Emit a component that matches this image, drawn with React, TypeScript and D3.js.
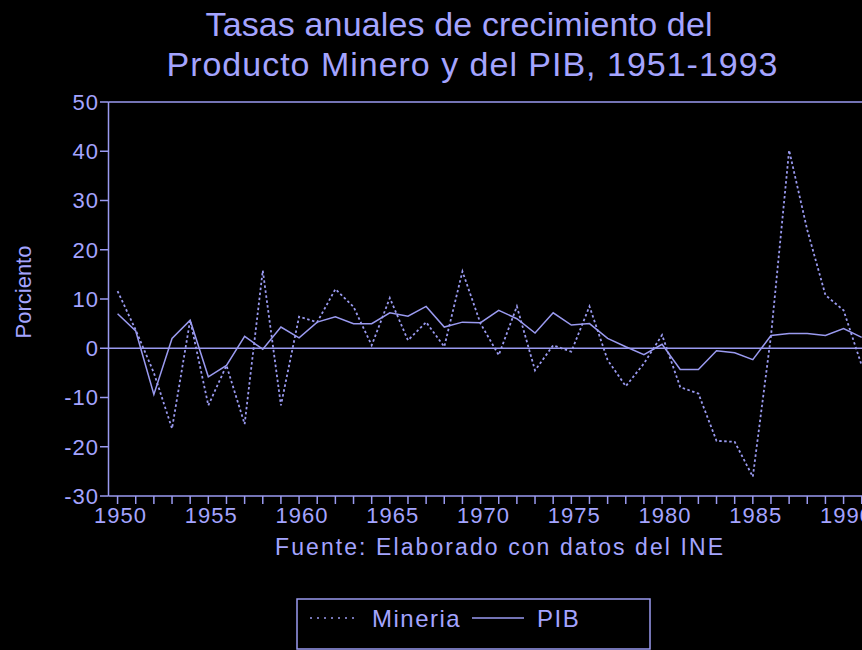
import React from "react";
import * as d3 from "d3";

const years = d3.range(1950, 1992);
const mineria = [
  11.6, 3.7, -5.0, -16.3, 5.7, -11.6, -3.5, -15.4, 15.8, -11.6,
  6.4, 5.3, 12.0, 8.4, 0.6, 10.2, 1.6, 5.3, 0.3, 15.6,
  5.0, -1.4, 8.5, -4.5, 0.6, -0.7, 8.5, -2.4, -7.7, -3.1,
  2.7, -7.9, -9.2, -18.8, -19.0, -26.1, 2.5, 40.2, 24.0, 10.8,
  7.7, -3.5,
];
const pib = [
  7.0, 3.5, -9.4, 2.0, 5.7, -5.8, -3.5, 2.4, -0.2, 4.3,
  2.1, 5.3, 6.4, 5.0, 5.0, 7.2, 6.5, 8.5, 4.3, 5.3,
  5.2, 7.7, 6.0, 3.1, 7.2, 4.7, 5.0, 2.0, 0.3, -1.3,
  0.8, -4.3, -4.3, -0.5, -0.9, -2.3, 2.6, 3.0, 3.0, 2.6,
  4.0, 2.2,
];
const yTicks = [50, 40, 30, 20, 10, 0, -10, -20, -30];
const xLabelYears = [1950, 1955, 1960, 1965, 1970, 1975, 1980, 1985, 1990];
const titleLines = ["Tasas anuales de crecimiento del", "Producto Minero y del PIB, 1951-1993"];
const sourceText = "Fuente: Elaborado con datos del INE";
const yLabel = "Porciento";
const legendItems = ["Mineria", "PIB"];

const W = 862;
const H = 650;
const LINE = "#9a9af0";
const TEXT = "#a4a4ff";
const FONT = "'Liberation Sans', Arial, Helvetica, sans-serif";
const titleWidths = [507, 611];

export default function App() {
  const x = d3.scaleLinear().domain([1949.5, 1993.5]).range([108.5, 108.5 + 44 * 18.15]);
  const y = d3.scaleLinear().domain([-30, 50]).range([496, 102]);
  const line = d3
    .line<number>()
    .x((_, i) => x(years[i]))
    .y((d) => y(d));
  const allTicks = d3.range(1950, 1994);
  const right = x(1993.5);

  return (
    <svg
      width={W}
      height={H}
      style={{ position: "absolute", left: 0, top: 0, background: "#000", display: "block" }}
    >
      <rect x={0} y={0} width={W} height={H} fill="#000" />
      {titleLines.map((t, i) => (
        <text
          key={t}
          x={459 - titleWidths[i] / 2 + (i === 0 ? 0 : 13)}
          y={36 + i * 40}
          fill={TEXT}
          fontFamily={FONT}
          fontSize={34}
          textLength={titleWidths[i]}
          lengthAdjust="spacing"
        >
          {t}
        </text>
      ))}
      {/* frame */}
      <line x1={x.range()[0]} x2={right} y1={y(50)} y2={y(50)} stroke={LINE} strokeWidth={1.5} />
      <line x1={x.range()[0]} x2={right} y1={y(-30)} y2={y(-30)} stroke={LINE} strokeWidth={1.5} />
      <line x1={x.range()[0]} x2={x.range()[0]} y1={y(50)} y2={y(-30)} stroke={LINE} strokeWidth={1.5} />
      <line x1={x.range()[0]} x2={right} y1={y(0)} y2={y(0)} stroke={LINE} strokeWidth={1.5} />
      {/* y ticks */}
      {yTicks.map((t) => (
        <g key={t}>
          <line x1={100} x2={x.range()[0]} y1={y(t)} y2={y(t)} stroke={LINE} strokeWidth={1.5} />
          <text
            x={99}
            y={y(t)}
            dy="0.36em"
            textAnchor="end"
            fill={TEXT}
            fontFamily={FONT}
            fontSize={22}
            letterSpacing={1}
          >
            {t}
          </text>
        </g>
      ))}
      {/* x ticks */}
      {allTicks.map((yr) => (
        <line key={yr} x1={x(yr)} x2={x(yr)} y1={y(-30)} y2={y(-30) + 8} stroke={LINE} strokeWidth={1.5} />
      ))}
      {xLabelYears.map((yr) => (
        <text
          key={yr}
          x={x(yr) + 3}
          y={523}
          textAnchor="middle"
          fill={TEXT}
          fontFamily={FONT}
          fontSize={22}
          letterSpacing={1}
        >
          {yr}
        </text>
      ))}
      <text
        transform={`translate(31,292) rotate(-90)`}
        textAnchor="middle"
        fill={TEXT}
        fontFamily={FONT}
        fontSize={22}
      >
        {yLabel}
      </text>
      <text
        x={275}
        y={555}
        fill={TEXT}
        fontFamily={FONT}
        fontSize={23}
        textLength={448}
        lengthAdjust="spacing"
      >
        {sourceText}
      </text>
      {/* series */}
      <path d={line(mineria) || ""} fill="none" stroke={LINE} strokeWidth={1.8} strokeDasharray="2.5,2.5" />
      <path d={line(pib) || ""} fill="none" stroke={LINE} strokeWidth={1.5} />
      {/* legend */}
      <rect x={297} y={599} width={353} height={50} fill="none" stroke={LINE} strokeWidth={1.5} />
      <line x1={310} x2={358} y1={618} y2={618} stroke={LINE} strokeWidth={1.4} strokeDasharray="2,5" />
      <text x={372} y={627} fill={TEXT} fontFamily={FONT} fontSize={24} letterSpacing={1.5}>
        {legendItems[0]}
      </text>
      <line x1={472} x2={524} y1={618} y2={618} stroke={LINE} strokeWidth={1.4} />
      <text x={537} y={627} fill={TEXT} fontFamily={FONT} fontSize={24} letterSpacing={1.5}>
        {legendItems[1]}
      </text>
    </svg>
  );
}
